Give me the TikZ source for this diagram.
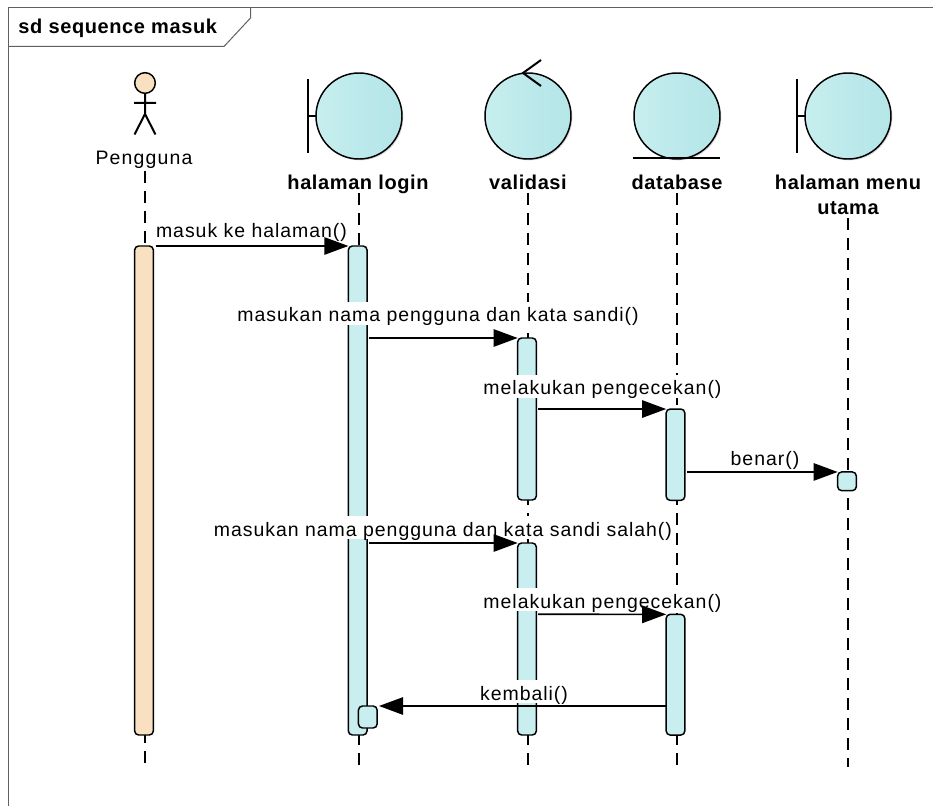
\documentclass[tikz,border=0pt]{standalone}
\usepackage{fontspec}
\setmainfont{Liberation Sans}
\usetikzlibrary{arrows.meta,shadows}
\definecolor{actblue}{HTML}{C8EEEF}
\definecolor{actorange}{HTML}{F8E0C0}
\definecolor{framegray}{HTML}{606060}
\definecolor{robA}{HTML}{B6E6E8}
\definecolor{robB}{HTML}{CAEFEF}
\definecolor{robC}{HTML}{BEEAEC}
\definecolor{robD}{HTML}{ACE2E4}
\pgfdeclarehorizontalshading{robust}{100bp}{color(0bp)=(robA);color(22bp)=(robB);color(45bp)=(robC);color(100bp)=(robD)}
\tikzset{
  lifeline/.style={line width=1.5pt,dash pattern=on 9pt off 6pt,black},
  actbox/.style={rectangle,rounded corners=3pt,draw=black,line width=1.1pt,fill=actblue,minimum width=14pt,inner sep=0pt,outer sep=0pt},
  msg/.style={line width=1.25pt,-{Triangle[length=18pt,width=13pt]},black},
  msgtext/.style={font=\fontsize{14.6pt}{16pt}\selectfont\addfontfeature{LetterSpace=5},fill=white,inner xsep=0pt,inner ysep=0pt,text height=15pt,text depth=2.25pt,anchor=base},
  robustness/.style={circle,draw=black,line width=1.1pt,shading=robust,minimum size=64.5pt,inner sep=0pt,outer sep=0pt,drop shadow={shadow xshift=1pt,shadow yshift=-1pt,fill=black!15,opacity=1}},
  symb/.style={line width=1.5pt,black},
  heading/.style={font=\fontsize{15pt}{18.75pt}\selectfont\bfseries\addfontfeature{LetterSpace=3},inner sep=0pt,outer sep=0pt},
  actorname/.style={font=\fontsize{14.6pt}{16pt}\selectfont\addfontfeature{LetterSpace=6},inner sep=0pt,outer sep=0pt}
}
\begin{document}
\begin{tikzpicture}[x=0.75pt,y=-0.75pt]
\useasboundingbox (0,0) rectangle (933,806);
\fill[white] (0,0) rectangle (933,806);
% frame
\draw[framegray,line width=0.75pt] (8,806) -- (8,8) -- (933,8);
\draw[framegray,line width=0.75pt] (8,46.5) -- (224,46.5) -- (250.5,18) -- (250.5,8);
\node[heading,anchor=base west] (title) at (18.5,34) {sd sequence masuk};
% actor
\node[circle,draw=black,line width=1.1pt,fill=actorange,minimum size=15.5pt,inner sep=0pt,outer sep=0pt] (head) at (145,83) {};
\coordinate (hip) at (145,114);
\coordinate (armL) at (134,103);
\coordinate (armR) at (156,103);
\coordinate (legL) at (134.5,134.5);
\coordinate (legR) at (155.5,134.5);
\draw[symb] (head.south) -- (hip) (armL) -- (armR) (legL) -- (hip) -- (legR);
\node[actorname,anchor=base,text depth=4.5pt] (pengguna) at (144,165) {Pengguna};
% robustness symbols
\node[robustness] (login) at (359,116) {};
\coordinate (lbT) at (308,79); \coordinate (lbB) at (308,153);
\draw[symb] (lbT) -- (lbB) (308,116) -- (login.west);
\node[robustness] (validasi) at (528,116) {};
\coordinate (vt) at (541,60); \coordinate (vb) at (541,86);
\draw[symb] (vt) -- (523,73) -- (vb);
\node[robustness] (database) at (677,116) {};
\coordinate (dL) at (633,158.5); \coordinate (dR) at (720,158.5);
\draw[symb] (dL) -- (dR);
\node[robustness] (menu) at (848,116) {};
\coordinate (mbT) at (797,79); \coordinate (mbB) at (797,153);
\draw[symb] (mbT) -- (mbB) (797,116) -- (menu.west);
% headings
\node[heading,anchor=base,text depth=2.25pt] (loginl) at (358,190) {halaman login};
\node[heading,anchor=base,text depth=2.25pt] (vall) at (528,190) {validasi};
\node[heading,anchor=base,text depth=2.25pt] (dbl) at (677,190) {database};
\node[heading,anchor=south,align=center] (menul) at (848,215) {halaman menu\\utama};
% lifeline ends
\coordinate (e1) at (145,767);
\coordinate (e2) at (358.7,767);
\coordinate (e3) at (528,767);
\coordinate (e4) at (676.7,767);
\coordinate (e5) at (848,767);
\draw[lifeline] (145,171) -- (e1);
\draw[lifeline] (358.7,193) -- (e2);
\draw[lifeline] (528,193) -- (e3);
\draw[lifeline] (676.7,193) -- (e4);
\draw[lifeline] (848,218) -- (e5);
% activations
\node[actbox,fill=actorange,minimum height=366.75pt] (a1) at (144,490.5) {};
\node[actbox,minimum height=366.75pt] (a2) at (357.7,490.5) {};
\node[actbox,minimum height=121.5pt] (a3) at (527,419) {};
\node[actbox,minimum height=144pt] (a4) at (527,639) {};
\node[actbox,minimum height=68.5pt] (a5) at (675.5,454.7) {};
\node[actbox,minimum height=90.5pt] (a6) at (675.5,674.7) {};
\node[actbox,minimum height=14pt] (a7) at (847,481.3) {};
\node[actbox,minimum height=16.5pt] (a8) at (367.8,717) {};
% labels
\node[msgtext] (m1) at (251.5,238) {masuk ke halaman()};
\node[msgtext] (m2) at (438,322) {masukan nama pengguna dan kata sandi()};
\node[msgtext] (m3) at (602.5,395) {melakukan pengecekan()};
\node[msgtext] (m4) at (765,465) {benar()};
\node[msgtext] (m5) at (443,536) {masukan nama pengguna dan kata sandi salah()};
\node[msgtext] (m6) at (602.5,608) {melakukan pengecekan()};
\node[msgtext] (m7) at (524,700) {kembali()};
% messages
\coordinate (s1) at (155.5,246);
\coordinate (s2) at (369,338);
\coordinate (s3) at (538,409);
\coordinate (s4) at (687,472);
\coordinate (s5) at (369,543);
\coordinate (s6) at (538,614.3);
\coordinate (s7) at (666,706);
\coordinate (t7) at (379,706);
\draw[msg] (s1) -- (a2.north west);
\draw[msg] (s2) -- (a3.north west);
\draw[msg] (s3) -- (a5.north west);
\draw[msg] (s4) -- (a7.north west);
\draw[msg] (s5) -- (a4.north west);
\draw[msg] (s6) -- (a6.north west);
\draw[msg] (s7) -- (t7);
\end{tikzpicture}
\end{document}
